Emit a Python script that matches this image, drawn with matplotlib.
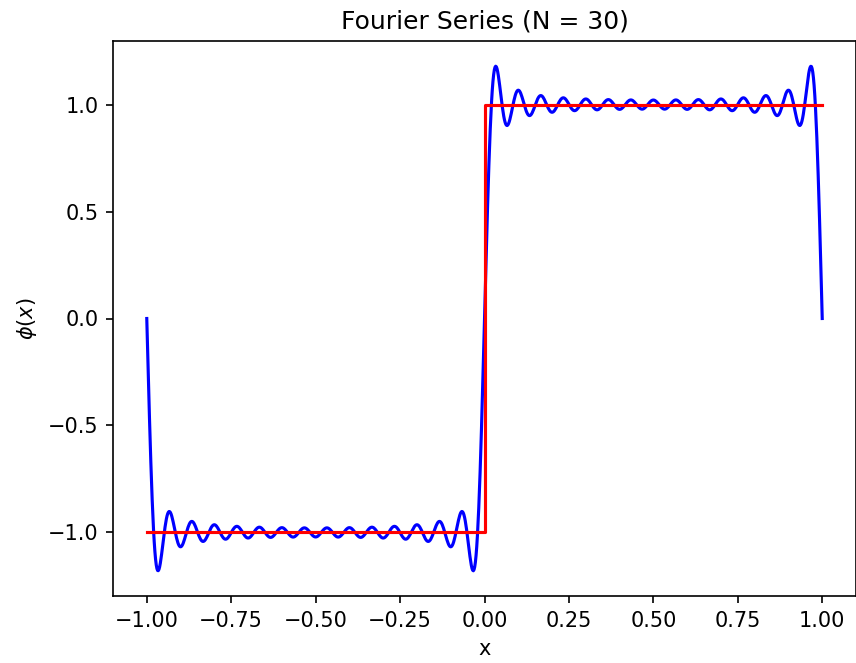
import numpy as np
import matplotlib
matplotlib.use("Agg")
import matplotlib.pyplot as plt

# square wave on [-1, 1] and its truncated sine series (odd harmonics up to 29)
step_x = [-1.0, 0.0, 0.0, 1.0]
step_y = [-1.0, -1.0, 1.0, 1.0]

harmonics = [1, 3, 5, 7, 9, 11, 13, 15, 17, 19, 21, 23, 25, 27, 29]
coefficients = [1.27324, 0.42441, 0.25465, 0.18189, 0.14147, 0.11575, 0.09794, 0.08488,
                0.07490, 0.06701, 0.06063, 0.05536, 0.05093, 0.04716, 0.04390]

n_terms = 30

x = np.linspace(-1, 1, 1000)
phi = np.zeros_like(x)
for n, b in zip(harmonics, coefficients):
    phi += b * np.sin(n * np.pi * x)

fig = plt.figure(figsize=(857 / 150, 663 / 150), dpi=150)
ax = fig.add_axes([113 / 857, 1 - 596 / 663, (856 - 113) / 857, (596 - 41) / 663])

ax.plot(x, phi, color="blue")
ax.plot(step_x, step_y, color="red")

ax.set_title("Fourier Series (N = %d)" % n_terms)
ax.set_xlabel("x")
ax.set_ylabel(r"$\phi(x)$")

fig.savefig("out.png", dpi=150)
